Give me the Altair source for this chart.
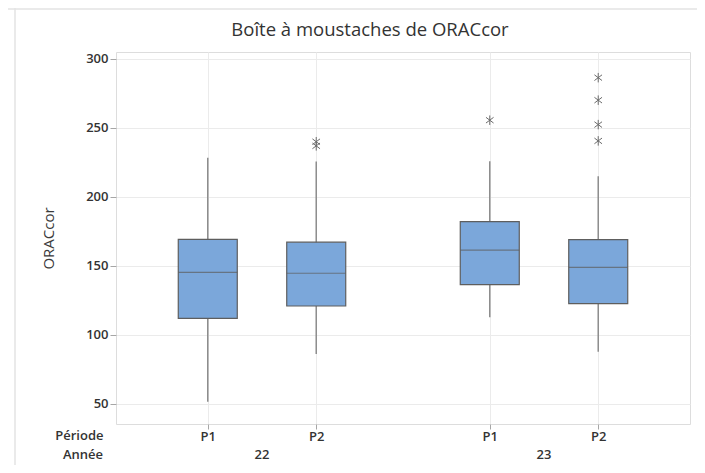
import altair as alt
import pandas as pd

# ---- data ----
years = ["22", "22", "23", "23"]
periods = ["P1", "P2", "P1", "P2"]
whisker_low = [51.7, 86.2, 112.8, 87.9]
q1 = [112.0, 121.0, 136.5, 122.7]
median = [145.4, 144.7, 161.4, 149.0]
q3 = [169.3, 167.2, 182.1, 169.1]
whisker_high = [228.3, 225.6, 225.9, 215.0]

out_years = ["22", "22", "23", "23", "23", "23", "23"]
out_periods = ["P2", "P2", "P1", "P2", "P2", "P2", "P2"]
out_values = [237.0, 240.0, 255.6, 240.6, 252.4, 270.1, 286.4]

year_order = ["22", "23"]
period_order = ["P1", "P2"]
GROUP_GAP = 2.6  # distance between year groups, in box spacings
TITLE = "Boîte à moustaches de ORACcor"


def pos(y, p):
    return year_order.index(y) * GROUP_GAP + period_order.index(p) + 1


boxes = pd.DataFrame({
    "year": years, "period": periods, "lo": whisker_low, "q1": q1,
    "median": median, "q3": q3, "hi": whisker_high,
})
boxes["pos"] = [pos(y, p) for y, p in zip(years, periods)]

outs = pd.DataFrame({"year": out_years, "period": out_periods, "value": out_values})
outs["pos"] = [pos(y, p) for y, p in zip(out_years, out_periods)]

tick_positions = sorted(boxes["pos"].tolist())

W, H = 574, 372
PL, PT, PR, PB = 108, 44, 7, 41
FONT = "Open Sans"
TXT = "#333333"
BOXW = 59
LBL = 13

xscale = alt.Scale(domain=[0.2, 5.4], nice=False, zero=False)
yscale = alt.Scale(domain=[35.5, 305], nice=False, zero=False)

xaxis = alt.Axis(
    values=tick_positions,
    labelExpr="(round(datum.value*10) % 26 == 10) ? 'P1' : 'P2'",
    title="Période", titleX=-13, titleY=5, titleAlign="right", titleBaseline="top",
    titleFont=FONT, titleFontSize=LBL, titleFontWeight=600, titleColor=TXT,
    labelFont=FONT, labelFontSize=LBL, labelFontWeight=600, labelColor=TXT,
    labelPadding=1, tickSize=5, tickColor="#a6a6a6",
    grid=True, gridColor="#ebebeb", domain=False,
)
yaxis = alt.Axis(
    values=[50, 100, 150, 200, 250, 300],
    title="ORACcor", titleX=-68, titleY=H / 2, titleAngle=-90,
    titleAlign="center", titleBaseline="middle",
    titleFont=FONT, titleFontSize=15, titleFontWeight=500, titleColor="#3a3a3a",
    labelFont=FONT, labelFontSize=LBL, labelFontWeight=600, labelColor=TXT,
    labelPadding=2, tickSize=6, tickColor="#a6a6a6",
    grid=True, gridColor="#ebebeb", domain=False,
)

base = alt.Chart(boxes)
one = base.transform_aggregate(n="count()")

whisk = base.mark_rule(color="#8c8c8c", strokeWidth=1.5).encode(
    x=alt.X("pos:Q", scale=xscale, axis=xaxis),
    y=alt.Y("lo:Q", scale=yscale, axis=yaxis),
    y2="hi:Q",
)
box = base.mark_bar(size=BOXW, color="#7ba7da", stroke="#5e5e5e", strokeWidth=1.2).encode(
    x="pos:Q", y="q1:Q", y2="q3:Q",
)
med = base.mark_tick(orient="horizontal", size=BOXW, thickness=1.2, color="#5e5e5e").encode(
    x="pos:Q", y="median:Q",
)

asterisk = "M0,-1L0,1M-0.8,-0.6L0.8,0.6M-0.8,0.6L0.8,-0.6"
pts = alt.Chart(outs).mark_point(
    shape=asterisk, size=90, filled=False, stroke="#6b6b6b", strokeWidth=1, opacity=1
).encode(x="pos:Q", y="value:Q")

year_lbl = base.transform_aggregate(
    mid="mean(pos)", groupby=["year"]
).mark_text(font=FONT, fontSize=LBL, fontWeight=600, color=TXT, baseline="middle").encode(
    x="mid:Q", y=alt.value(H + 31), text="year:N"
)
annee = one.mark_text(
    font=FONT, fontSize=LBL, fontWeight=600, color=TXT, align="right", baseline="middle"
).encode(x=alt.value(-13), y=alt.value(H + 31), text=alt.value("Année"))

title = one.mark_text(
    font=FONT, fontSize=18.5, fontWeight=500, color=TXT, align="center", baseline="middle"
).encode(x=alt.value(254), y=alt.value(-22), text=alt.value(TITLE))

border_v = one.mark_rule(color="#e3e3e3", strokeWidth=1.5).encode(
    x=alt.value(-101), y=alt.value(-44), y2=alt.value(H + PB)
)
border_h = one.mark_rule(color="#e3e3e3", strokeWidth=1.5).encode(
    x=alt.value(-PL), x2=alt.value(W + PR), y=alt.value(-43)
)

chart = alt.layer(border_v, border_h, whisk, box, med, pts, year_lbl, annee, title).properties(
    width=W, height=H,
    autosize=alt.AutoSizeParams(type="none"),
    padding={"left": PL, "top": PT, "right": PR, "bottom": PB},
).configure_view(stroke="#a6a6a6", strokeWidth=1.2).configure(background="white")

chart.save("out.html", embed_options={"renderer": "svg", "actions": False})
